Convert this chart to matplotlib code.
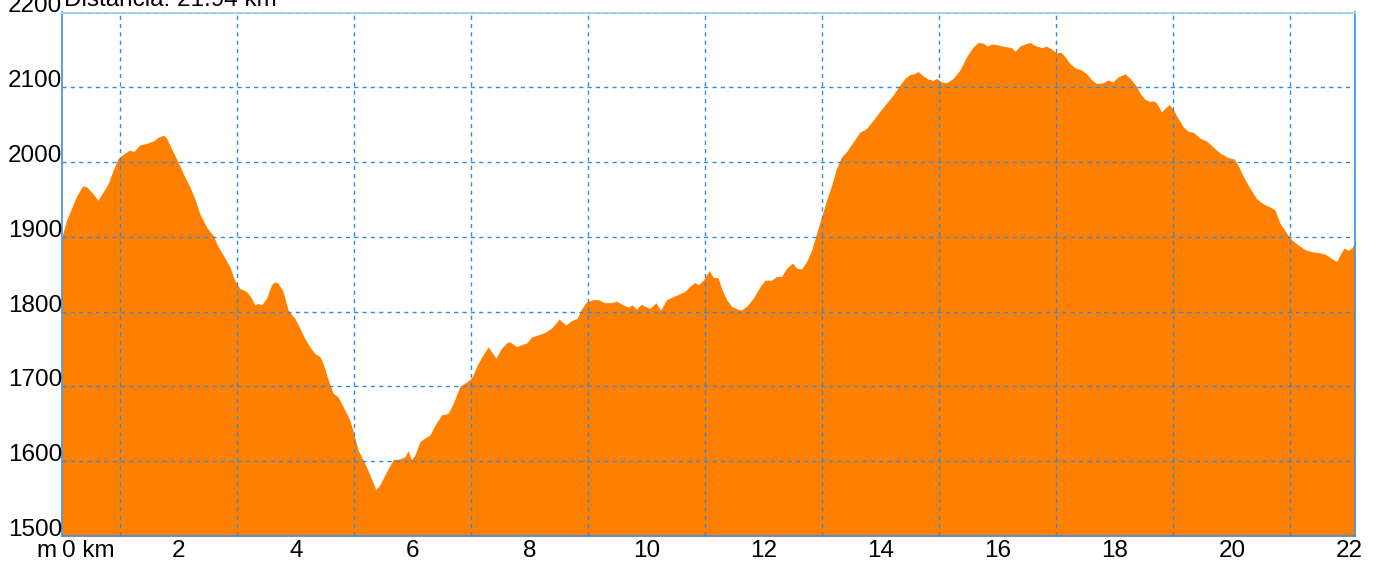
import matplotlib
matplotlib.use("Agg")
import matplotlib.pyplot as plt

dist_km = [
    0.000, 0.031, 0.077, 0.162, 0.248, 0.350, 0.419, 0.504, 0.617, 0.703,
    0.788, 0.874, 0.959, 1.074, 1.159, 1.228, 1.330, 1.445, 1.558, 1.643,
    1.729, 1.787, 1.872, 1.985, 2.070, 2.185, 2.270, 2.356, 2.471, 2.583,
    2.669, 2.754, 2.869, 2.954, 3.040, 3.154, 3.240, 3.296, 3.353, 3.411,
    3.496, 3.582, 3.638, 3.695, 3.780, 3.866, 3.980, 4.066, 4.151, 4.237,
    4.322, 4.408, 4.464, 4.550, 4.635, 4.720, 4.806, 4.920, 4.989, 5.062,
    5.177, 5.262, 5.365, 5.433, 5.548, 5.661, 5.775, 5.861, 5.917, 5.975,
    6.032, 6.117, 6.203, 6.288, 6.374, 6.488, 6.601, 6.687, 6.801, 6.916,
    7.001, 7.114, 7.229, 7.285, 7.417, 7.514, 7.627, 7.685, 7.771, 7.856,
    7.942, 8.027, 8.140, 8.254, 8.369, 8.499, 8.613, 8.711, 8.807, 8.882,
    8.967, 9.080, 9.166, 9.280, 9.395, 9.480, 9.566, 9.679, 9.747, 9.822,
    9.896, 9.976, 10.050, 10.152, 10.233, 10.335, 10.448, 10.562, 10.648, 10.733,
    10.819, 10.876, 10.961, 11.064, 11.132, 11.217, 11.275, 11.361, 11.446, 11.532,
    11.605, 11.703, 11.816, 11.930, 12.016, 12.130, 12.216, 12.301, 12.387, 12.489,
    12.558, 12.643, 12.729, 12.814, 12.900, 12.985, 13.071, 13.156, 13.242, 13.327,
    13.412, 13.525, 13.640, 13.755, 13.868, 13.982, 14.097, 14.210, 14.324, 14.410,
    14.495, 14.563, 14.637, 14.722, 14.808, 14.893, 14.951, 15.037, 15.122, 15.235,
    15.350, 15.464, 15.577, 15.663, 15.748, 15.817, 15.892, 15.977, 16.090, 16.234,
    16.290, 16.375, 16.461, 16.547, 16.632, 16.746, 16.832, 16.917, 17.003, 17.071,
    17.145, 17.230, 17.316, 17.430, 17.516, 17.601, 17.687, 17.800, 17.885, 17.960,
    18.056, 18.171, 18.256, 18.371, 18.427, 18.513, 18.598, 18.655, 18.713, 18.798,
    18.855, 18.928, 18.997, 19.082, 19.168, 19.253, 19.339, 19.453, 19.568, 19.680,
    19.795, 19.937, 20.039, 20.108, 20.193, 20.308, 20.422, 20.535, 20.650, 20.735,
    20.821, 20.935, 21.021, 21.134, 21.248, 21.363, 21.475, 21.590, 21.705, 21.790,
    21.847, 21.915, 21.988, 22.047, 22.103,
]

elev_m = [
    1900, 1909, 1922, 1938, 1954, 1968, 1967, 1960, 1949, 1960,
    1971, 1989, 2005, 2012, 2016, 2014, 2023, 2025, 2028, 2033,
    2036, 2032, 2018, 2000, 1985, 1967, 1951, 1931, 1913, 1902,
    1887, 1876, 1860, 1842, 1831, 1827, 1818, 1809, 1811, 1809,
    1818, 1836, 1840, 1838, 1827, 1802, 1791, 1778, 1764, 1753,
    1744, 1740, 1731, 1709, 1691, 1686, 1673, 1655, 1637, 1615,
    1597, 1582, 1562, 1568, 1586, 1602, 1603, 1606, 1614, 1602,
    1608, 1626, 1631, 1635, 1648, 1662, 1664, 1677, 1700, 1706,
    1711, 1731, 1746, 1753, 1738, 1751, 1760, 1758, 1753, 1756,
    1758, 1766, 1769, 1772, 1778, 1790, 1782, 1788, 1791, 1804,
    1813, 1816, 1816, 1812, 1812, 1814, 1810, 1806, 1809, 1803,
    1810, 1807, 1804, 1812, 1802, 1816, 1820, 1824, 1827, 1834,
    1839, 1836, 1842, 1855, 1846, 1845, 1831, 1816, 1807, 1804,
    1802, 1807, 1818, 1833, 1842, 1842, 1847, 1847, 1858, 1865,
    1858, 1857, 1867, 1882, 1905, 1927, 1949, 1969, 1992, 2007,
    2014, 2027, 2040, 2045, 2056, 2068, 2079, 2090, 2103, 2112,
    2117, 2118, 2121, 2115, 2111, 2109, 2112, 2107, 2106, 2112,
    2123, 2141, 2154, 2160, 2159, 2155, 2158, 2157, 2155, 2153,
    2148, 2155, 2158, 2160, 2156, 2153, 2155, 2151, 2146, 2147,
    2141, 2132, 2126, 2123, 2118, 2110, 2105, 2106, 2110, 2107,
    2114, 2118, 2112, 2101, 2092, 2084, 2081, 2082, 2079, 2067,
    2072, 2077, 2070, 2058, 2047, 2041, 2040, 2032, 2028, 2020,
    2012, 2006, 2004, 1995, 1981, 1965, 1951, 1944, 1940, 1936,
    1918, 1905, 1896, 1889, 1883, 1880, 1879, 1877, 1871, 1867,
    1876, 1885, 1882, 1885, 1892,
]

x_ticks = [0, 2, 4, 6, 8, 10, 12, 14, 16, 18, 20, 22]
x_tick_labels = ["0 km", "2", "4", "6", "8", "10", "12", "14", "16", "18", "20", "22"]
y_ticks = [1500, 1600, 1700, 1800, 1900, 2000, 2100, 2200]
title_text = "Distancia: 21.94 km"
y_unit = "m"

FONT = "Liberation Sans"
FS = 17.5
FILL = "#FF8000"
GRID = "#2f8ae6"
SPINE = "#3d8fe6"

fig = plt.figure(figsize=(13.8, 5.65), dpi=100)
W, H = 1380, 565
ax = fig.add_axes([62 / W, 1 - 536 / H, (1355 - 62) / W, (536 - 12.5) / H])

ax.fill_between(dist_km, elev_m, y_ticks[0], color=FILL, linewidth=0, zorder=1)

ax.set_xlim(0, dist_km[-1])
ax.set_ylim(y_ticks[0], y_ticks[-1])

ax.set_xticks(x_ticks)
ax.set_xticks(list(range(0, 23)), minor=True)
ax.set_yticks(y_ticks)
ax.set_xticklabels(x_tick_labels, fontfamily=FONT, fontsize=FS)
ax.set_yticklabels([str(v) for v in y_ticks], fontfamily=FONT, fontsize=FS)
ax.tick_params(axis="both", which="both", length=0)
ax.tick_params(axis="x", pad=3)
ax.tick_params(axis="y", pad=0)
for lab in ax.get_yticklabels():
    lab.set_verticalalignment("baseline")
ax.get_xticklabels()[0].set_horizontalalignment("left")

ax.set_axisbelow(False)
ax.grid(True, axis="x", which="minor", color=GRID, linestyle=(0, (3, 3)), linewidth=1.0, zorder=3)
ax.grid(True, axis="y", which="major", color=GRID, linestyle=(0, (3, 3)), linewidth=1.0, zorder=3)
ax.grid(False, axis="x", which="major")

for side in ["left", "right", "bottom"]:
    ax.spines[side].set_color(SPINE)
    ax.spines[side].set_linewidth(1.2)
ax.spines["top"].set_color("#a9d3fb")
ax.spines["top"].set_linewidth(1.5)

fig.text(57 / W, 1 - 557 / H, y_unit, ha="right", va="baseline",
         fontfamily=FONT, fontsize=FS)
fig.text(64 / W, 1 - 6 / H, title_text, ha="left", va="baseline",
         fontfamily=FONT, fontsize=FS)

fig.savefig("out.png", dpi=100)
